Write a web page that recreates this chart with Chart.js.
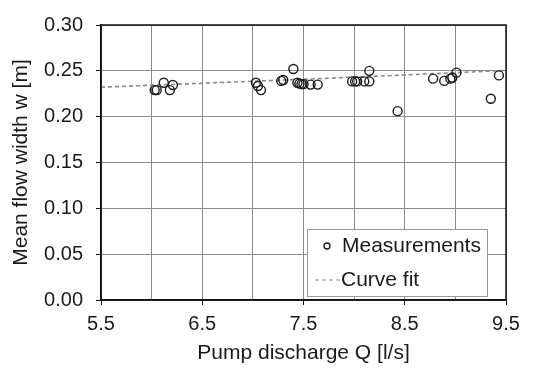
<!DOCTYPE html>
<html>
<head>
<meta charset="utf-8">
<script src="https://cdn.jsdelivr.net/npm/chart.js@4"></script>
<style>
  html, body { margin: 0; padding: 0; background: #fff; }
</style>
</head>
<body>
<canvas id="chart" width="536" height="371"></canvas>
<script>
// --- Data ---
const measQ = [6.03, 6.05, 6.12, 6.18, 6.21, 7.03, 7.05, 7.08, 7.28, 7.30, 7.40,
               7.44, 7.46, 7.48, 7.50, 7.57, 7.64, 7.98, 8.01, 8.03, 8.10, 8.15,
               8.15, 8.43, 8.78, 8.89, 8.95, 8.97, 9.01, 9.35, 9.43];
const measW = [0.229, 0.229, 0.237, 0.229, 0.2345, 0.237, 0.2335, 0.229, 0.239, 0.240, 0.252,
               0.237, 0.236, 0.2355, 0.2355, 0.235, 0.235, 0.2385, 0.2385, 0.2385, 0.2385, 0.2385,
               0.250, 0.206, 0.2415, 0.239, 0.2415, 0.2425, 0.248, 0.2195, 0.245];

const fitQ = [5.5, 6.5, 7.5, 8.5, 9.5];
const fitW = [0.2322, 0.2365, 0.2408, 0.2455, 0.2505];

const xLabels = ['5.5', '6.5', '7.5', '8.5', '9.5'];

const FONT = '"Liberation Sans", Arial, sans-serif';
const TEXT = '#1a1a1a';

// frame round the plot + legend box inside it
const framePlugin = {
    id: 'frame',
    afterDraw(chart) {
        const { ctx, chartArea: ca } = chart;
        ctx.save();
        ctx.strokeStyle = '#111';
        ctx.lineWidth = 1.5;
        ctx.strokeRect(ca.left, ca.top, ca.right - ca.left, ca.bottom - ca.top);

        // legend
        const bx = ca.right - 199, by = ca.bottom - 71, bw = 180, bh = 67;
        ctx.fillStyle = '#fff';
        ctx.fillRect(bx, by, bw, bh);
        ctx.strokeStyle = '#999';
        ctx.lineWidth = 1;
        ctx.strokeRect(bx + 0.5, by + 0.5, bw, bh);

        const ds = chart.data.datasets;
        ctx.beginPath();
        ctx.arc(bx + 20, by + 17, 3, 0, Math.PI * 2);
        ctx.strokeStyle = ds[0].borderColor;
        ctx.lineWidth = 1.3;
        ctx.stroke();

        ctx.beginPath();
        ctx.setLineDash(ds[1].borderDash);
        ctx.strokeStyle = ds[1].borderColor;
        ctx.lineWidth = 1.2;
        ctx.moveTo(bx + 8, by + 51);
        ctx.lineTo(bx + 33, by + 51);
        ctx.stroke();
        ctx.setLineDash([]);

        ctx.fillStyle = TEXT;
        ctx.font = '21px ' + FONT;
        ctx.textBaseline = 'middle';
        ctx.fillText(ds[0].label, bx + 35, by + 17);
        ctx.fillText(ds[1].label, bx + 34, by + 51);
        ctx.restore();
    }
};

const ctx = document.getElementById('chart').getContext('2d');
new Chart(ctx, {
    type: 'scatter',
    data: {
        datasets: [
            {
                label: 'Measurements',
                data: measQ.map((q, i) => ({ x: q, y: measW[i] })),
                pointStyle: 'circle',
                pointRadius: 4.5,
                pointBorderWidth: 1.4,
                borderColor: '#1a1a1a',
                backgroundColor: 'rgba(0,0,0,0)',
                order: 1
            },
            {
                type: 'line',
                label: 'Curve fit',
                data: fitQ.map((q, i) => ({ x: q, y: fitW[i] })),
                borderColor: '#888',
                borderWidth: 1.6,
                borderDash: [4, 3],
                pointRadius: 0,
                fill: false,
                order: 2
            }
        ]
    },
    options: {
        responsive: false,
        animation: false,
        events: [],
        layout: { padding: { top: 10, right: 30, left: 0, bottom: 0 } },
        plugins: {
            legend: { display: false },
            tooltip: { enabled: false }
        },
        scales: {
            x: {
                type: 'linear',
                min: 5.5,
                max: 9.5,
                afterFit(scale) { scale.height = 71; },
                ticks: {
                    stepSize: 0.5,
                    autoSkip: false,
                    maxRotation: 0,
                    padding: 7,
                    color: TEXT,
                    font: { family: FONT, size: 20 },
                    callback(v) {
                        const s = v.toFixed(1);
                        return xLabels.includes(s) ? s : '';
                    }
                },
                grid: {
                    color: '#8c8c8c',
                    lineWidth: 1,
                    tickLength: 5,
                    tickColor(c) {
                        const v = c.tick ? c.tick.value : 0;
                        return xLabels.includes(v.toFixed(1)) ? '#111' : 'rgba(0,0,0,0)';
                    }
                },
                border: { color: '#111', width: 1.5 },
                title: {
                    display: true,
                    text: 'Pump discharge Q [l/s]',
                    color: TEXT,
                    font: { family: FONT, size: 21 },
                    padding: { top: 0, bottom: 5 }
                }
            },
            y: {
                min: 0,
                max: 0.30,
                afterFit(scale) { scale.width = 101; },
                ticks: {
                    stepSize: 0.05,
                    padding: 13,
                    color: TEXT,
                    font: { family: FONT, size: 20 },
                    callback(v) { return v.toFixed(2); }
                },
                grid: {
                    color: '#8c8c8c',
                    lineWidth: 1,
                    tickLength: 5,
                    tickColor: '#111'
                },
                border: { color: '#111', width: 1.5 },
                title: {
                    display: true,
                    text: 'Mean flow width w [m]',
                    color: TEXT,
                    font: { family: FONT, size: 21 },
                    padding: { top: 9, bottom: 0 }
                }
            }
        }
    },
    plugins: [framePlugin]
});
</script>
</body>
</html>
